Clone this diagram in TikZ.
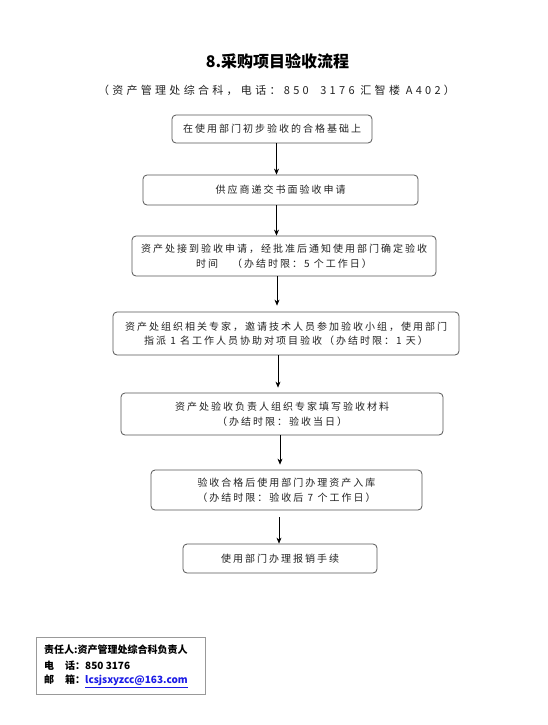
\documentclass[tikz,border=0pt]{standalone}
\usepackage{fontspec}
\usetikzlibrary{arrows.meta}
\newfontfamily\cjk[LetterSpace=20]{Noto Sans CJK SC}
\newfontfamily\cjksub[LetterSpace=30]{Noto Sans CJK SC}
\newfontfamily\cjktight{Noto Sans CJK SC}
\definecolor{boxline}{HTML}{555555}
\definecolor{txt}{HTML}{222222}
\definecolor{linkblue}{HTML}{1A1AE6}
\begin{document}
\begin{tikzpicture}[x=1pt,y=-1pt,
  stepbox/.style={draw=boxline,line width=0.8pt,rounded corners=4pt,inner sep=0pt,
     align=center,text=txt,font=\cjk\fontsize{10}{14.5}\selectfont},
  arr/.style={-{Stealth[length=6pt,width=5pt]},line width=0.6pt,black}]
\useasboundingbox (0,0) rectangle (548,725);
\fill[white] (0,0) rectangle (548,725);
\node[font=\cjktight\bfseries\fontsize{16}{18}\selectfont] (title) at (277.5,61) {8.采购项目验收流程};
\node[font=\cjksub\fontsize{11}{13}\selectfont,text=txt] (sub) at (276.5,90) {（资产管理处综合科，电话：850~~3176 汇智楼 A402）};
\node[stepbox,minimum width=200pt,minimum height=28pt] (b1) at (272,129) {在使用部门初步验收的合格基础上};
\node[stepbox,minimum width=275pt,minimum height=30pt] (b2) at (280.5,190) {供应商递交书面验收申请};
\node[stepbox,minimum width=304pt,minimum height=40pt] (b3) at (284,256) {资产处接到验收申请，经批准后通知使用部门确定验收\\时间　（办结时限：5 个工作日）};
\node[stepbox,minimum width=346pt,minimum height=43pt] (b4) at (286,333.5) {资产处组织相关专家，邀请技术人员参加验收小组，使用部门\\指派 1 名工作人员协助对项目验收（办结时限：1 天）};
\node[stepbox,minimum width=322pt,minimum height=42pt] (b5) at (282,414) {资产处验收负责人组织专家填写验收材料\\（办结时限：验收当日）};
\node[stepbox,minimum width=271pt,minimum height=40pt] (b6) at (286.5,490) {验收合格后使用部门办理资产入库\\（办结时限：验收后 7 个工作日）};
\node[stepbox,minimum width=194pt,minimum height=29pt] (b7) at (280,558.5) {使用部门办理报销手续};
\coordinate (a1) at (276.5,0);
\coordinate (a2) at (276.5,0);
\coordinate (a3) at (277,0);
\coordinate (a4) at (278,0);
\coordinate (a5) at (280,0);
\coordinate (a6) at (279,0);
\draw[arr] (b1.south -| a1) -- (b2.north -| a1);
\draw[arr] (b2.south -| a2) -- (b3.north -| a2);
\draw[arr,shorten >=6pt] (b3.south -| a3) -- (b4.north -| a3);
\draw[arr,shorten >=5pt] (b4.south -| a4) -- (b5.north -| a4);
\draw[arr,shorten >=5pt] (b5.south -| a5) -- (b6.north -| a5);
\draw[arr,shorten <=7pt] (b6.south -| a6) -- (b7.north -| a6);
\node[draw=gray!80,line width=0.8pt,minimum width=169pt,minimum height=57pt,inner sep=0pt] (info) at (120.5,665.5) {};
\begin{scope}[every node/.style={anchor=west,inner sep=0pt,font=\cjktight\bfseries\fontsize{10}{12}\selectfont}]
\node (l1) at (44,650) {责任人:资产管理处综合科负责人};
\node (l2) at (44,665.5) {电\hspace{11pt}话：850 3176};
\node (l3) at (44,681) {邮\hspace{11pt}箱：\textcolor{linkblue}{\underline{lcsjsxyzcc@163.com}}};
\end{scope}
\end{tikzpicture}
\end{document}
